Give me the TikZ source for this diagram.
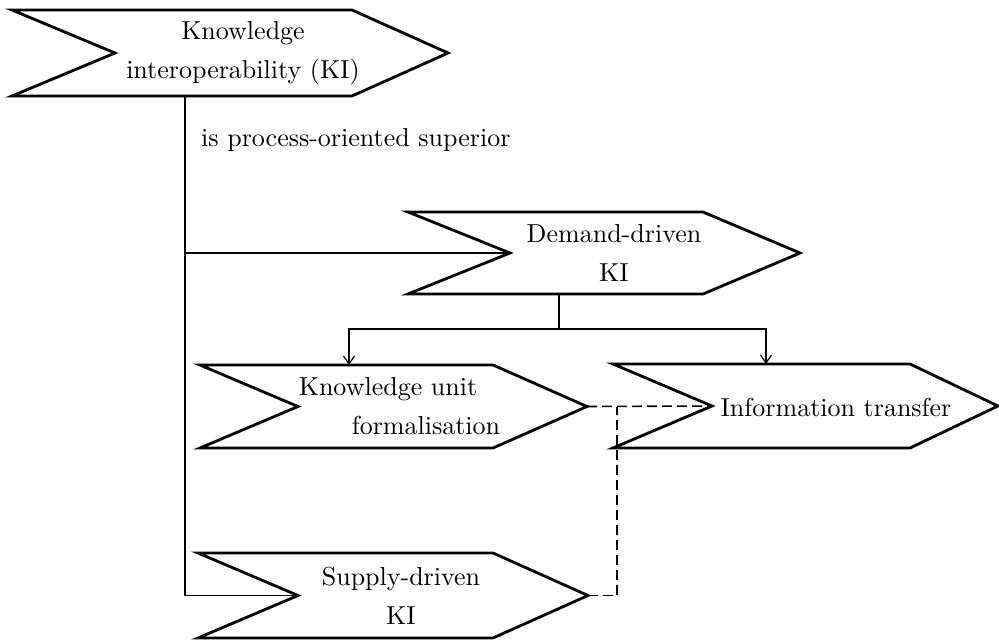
\documentclass[tikz,border=0pt]{standalone}
\usepackage{fontspec}
\usetikzlibrary{arrows.meta,calc}

% text face: Latin Modern Roman in its 10pt design, scaled up
\newfontfamily\capfont{lmroman10-regular.otf}

% Chevron: #1 name, #2 left x, #3 top y, #4 tip x, #5 bottom y,
% #6 depth of the pointed right end, #7 depth of the notch on the left
\newcommand\chevronshape[7]{%
  \node[chevbox, minimum width={#4-#2}, minimum height={#5-#3}] (#1)
    at ({(#2+#4)/2},{(#3+#5)/2}) {};
  \draw[chevline] (#1.north west) -- ([xshift=-#6]#1.north east) -- (#1.east)
    -- ([xshift=-#6]#1.south east) -- (#1.south west) -- ([xshift=#7]#1.west) -- cycle;
  \coordinate (#1-notch) at ([xshift=#7]#1.west);
}

\begin{document}
\begin{tikzpicture}[x=1pt,y=-1pt,
  chevbox/.style={rectangle, inner sep=0pt, outer sep=0pt},
  chevline/.style={line width=2.8pt, line join=miter, fill=white},
  caption/.style={font=\capfont\fontsize{26}{39}\selectfont, align=center, inner sep=0pt},
  link/.style={line width=1.4pt},
  flow/.style={link, -{Straight Barb[length=8pt,width=11pt,line width=1.2pt]}},
  dashlink/.style={line width=1.6pt, dash pattern=on 10pt off 5pt}]
\useasboundingbox (0,0) rectangle (999,641);

% chevrons
\chevronshape{ki}{12}{10}{448}{96}{96}{103}
\chevronshape{dd}{408}{212}{800}{294}{97}{102}
\chevronshape{ku}{200}{365}{587}{448}{94}{98}
\chevronshape{it}{613}{364}{998}{448}{88}{99}
\chevronshape{sd}{198}{553}{588}{638}{95}{100}

% texts
\node[caption] (ki-text) at (243,53) {Knowledge\\interoperability (KI)};
\node[caption] (dd-text) at (614,253) {Demand-driven\\KI};
\node[caption] (ku-text) at (407,406) {Knowledge unit\hspace*{38pt}\\\hspace*{38pt}formalisation};
\node[caption] (it-text) at (836,407) {Information transfer};
\node[caption] (sd-text) at (401,596) {Supply-driven\\KI};
\node[caption, anchor=west] (rel) at (201,140) {is process-oriented superior};

% junction points
\coordinate (trunk) at (185,0);
\coordinate (split) at (559,329);
\coordinate (kuin) at (349,0);
\coordinate (itin) at (766,0);
\coordinate (dj) at (617,407);

% solid connectors
\draw[link] (ki.south -| trunk) |- (sd-notch);
\draw[link] (dd-notch -| trunk) -- (dd-notch);
\draw[link] (dd.south -| split) -- (split);
\draw[flow] (split) -| (ku.north -| kuin);
\draw[flow] (split) -| (it.north -| itin);

% dashed connectors
\draw[dashlink] (ku.east) -- (it-notch);
\draw[dashlink] (sd.east) -| (dj);
\end{tikzpicture}
\end{document}
